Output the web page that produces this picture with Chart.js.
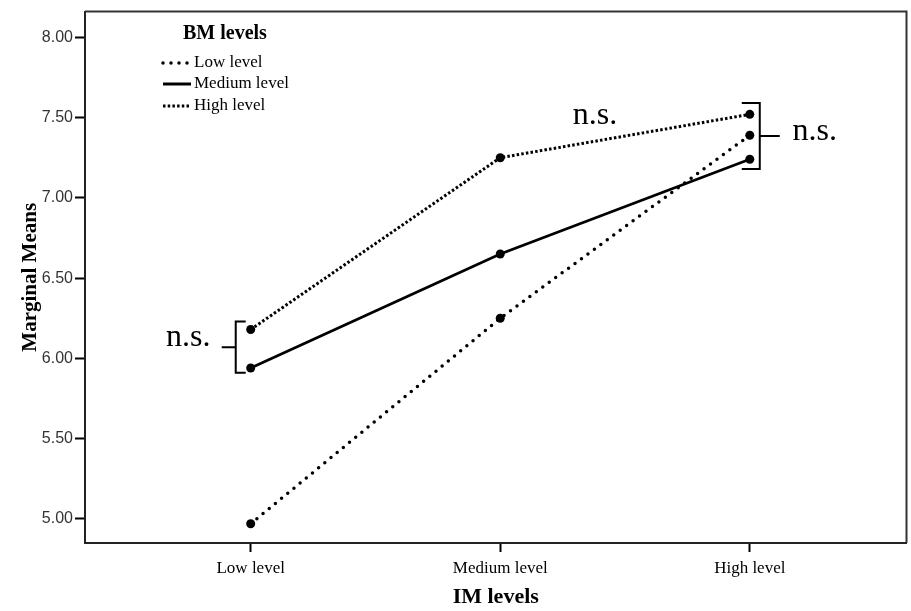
<!DOCTYPE html>
<html>
<head>
<meta charset="utf-8">
<script src="https://cdn.jsdelivr.net/npm/chart.js@4.4.1/dist/chart.umd.min.js"></script>
<style>
  body { margin: 0; background: #fff; }
  canvas { display: block; }
</style>
</head>
<body>
<canvas id="chart" width="911" height="611"></canvas>
<script>
// IM levels on the x axis, one line per BM level
const imLevels = ['Low level', 'Medium level', 'High level'];
const bmLevels = ['Low level', 'Medium level', 'High level'];
const lowBM = [4.97, 6.25, 7.39];
const mediumBM = [5.94, 6.65, 7.24];
const highBM = [6.18, 7.25, 7.52];
const yTicks = [5.0, 5.5, 6.0, 6.5, 7.0, 7.5, 8.0];

const serif = '"Liberation Serif", "Times New Roman", serif';
const sans = '"Liberation Sans", Arial, sans-serif';

function toPoints(values) {
  return values.map((v, i) => ({ x: i, y: v }));
}

// box around the plot, legend block and the n.s. marks
const extras = {
  id: 'extras',
  afterDraw(chart) {
    const ctx = chart.ctx;
    const area = chart.chartArea;
    const xs = chart.scales.x;
    const ys = chart.scales.y;
    ctx.save();

    // top and right frame
    ctx.strokeStyle = '#333';
    ctx.lineWidth = 2;
    ctx.beginPath();
    ctx.moveTo(area.left, area.top);
    ctx.lineTo(area.right, area.top);
    ctx.lineTo(area.right, area.bottom);
    ctx.stroke();

    // legend
    ctx.fillStyle = '#000';
    ctx.textBaseline = 'middle';
    ctx.font = 'bold 20px ' + serif;
    ctx.fillText('BM levels', 183, 34);
    ctx.font = '17px ' + serif;
    const rows = [63, 84, 106];
    const styles = [
      { dash: [0, 8], cap: 'round', width: 3.5 },
      { dash: [], cap: 'butt', width: 3 },
      { dash: [2.5, 2.2], cap: 'butt', width: 3 }
    ];
    bmLevels.forEach((name, i) => {
      const s = styles[i];
      ctx.setLineDash(s.dash);
      ctx.lineCap = s.cap;
      ctx.lineWidth = s.width;
      ctx.strokeStyle = '#000';
      ctx.beginPath();
      ctx.moveTo(163, rows[i]);
      ctx.lineTo(191, rows[i]);
      ctx.stroke();
      ctx.fillText(name, 194, rows[i]);
    });
    ctx.setLineDash([]);
    ctx.lineCap = 'butt';

    // brackets
    ctx.lineWidth = 2;
    ctx.strokeStyle = '#000';
    function bracket(x, yTop, yBot, dir, armLen, tipLen) {
      const xT = xs.getPixelForValue(x);
      const top = ys.getPixelForValue(yTop);
      const bot = ys.getPixelForValue(yBot);
      const mid = (top + bot) / 2;
      ctx.beginPath();
      ctx.moveTo(xT - dir * armLen, top);
      ctx.lineTo(xT, top);
      ctx.lineTo(xT, bot);
      ctx.lineTo(xT - dir * armLen, bot);
      ctx.moveTo(xT, mid);
      ctx.lineTo(xT + dir * tipLen, mid);
      ctx.stroke();
    }
    bracket(-0.06, 6.23, 5.91, -1, 10, 14);
    bracket(2.04, 7.59, 7.18, 1, 18, 20);

    ctx.font = '32px ' + serif;
    ctx.textAlign = 'center';
    [[-0.25, 6.13], [1.38, 7.51], [2.26, 7.41]].forEach(([x, y]) => {
      ctx.fillText('n.s.', xs.getPixelForValue(x), ys.getPixelForValue(y));
    });
    ctx.restore();
  }
};

new Chart(document.getElementById('chart'), {
  type: 'line',
  data: {
    datasets: [
      {
        label: bmLevels[0],
        data: toPoints(lowBM),
        borderColor: '#000',
        borderWidth: 3.5,
        borderDash: [0, 8],
        borderCapStyle: 'round',
        pointRadius: 4.5,
        pointBackgroundColor: '#000',
        pointBorderWidth: 0
      },
      {
        label: bmLevels[1],
        data: toPoints(mediumBM),
        borderColor: '#000',
        borderWidth: 2.8,
        pointRadius: 4.5,
        pointBackgroundColor: '#000',
        pointBorderWidth: 0
      },
      {
        label: bmLevels[2],
        data: toPoints(highBM),
        borderColor: '#000',
        borderWidth: 3,
        borderDash: [2.5, 2.2],
        pointRadius: 4.5,
        pointBackgroundColor: '#000',
        pointBorderWidth: 0
      }
    ]
  },
  options: {
    responsive: false,
    animation: false,
    layout: { padding: { top: 11, right: 3, left: 0, bottom: 0 } },
    plugins: { legend: { display: false }, tooltip: { enabled: false } },
    scales: {
      x: {
        type: 'linear',
        min: -0.664,
        max: 2.628,
        afterBuildTicks: axis => { axis.ticks = imLevels.map((_, i) => ({ value: i })); },
        afterFit: axis => { axis.height = 68; },
        ticks: {
          includeBounds: false,
          callback: v => imLevels[v],
          color: '#000',
          font: { family: serif, size: 17 },
          padding: 6,
          maxRotation: 0
        },
        grid: { drawOnChartArea: false, tickLength: 9, tickColor: '#000', tickWidth: 2 },
        border: { color: '#222', width: 2 },
        title: {
          display: true,
          text: 'IM levels',
          color: '#000',
          font: { family: serif, size: 22, weight: 'bold' },
          padding: { top: 0, bottom: 0 }
        }
      },
      y: {
        min: 4.85,
        max: 8.16,
        afterBuildTicks: axis => { axis.ticks = yTicks.map(v => ({ value: v })); },
        afterFit: axis => { axis.width = 85; },
        ticks: {
          includeBounds: false,
          callback: v => Number(v).toFixed(2),
          color: '#333',
          font: { family: sans, size: 16 },
          padding: 2
        },
        grid: { drawOnChartArea: false, tickLength: 10, tickColor: '#000', tickWidth: 2 },
        border: { color: '#222', width: 2 },
        title: {
          display: true,
          text: 'Marginal Means',
          color: '#000',
          font: { family: serif, size: 21, weight: 'bold' },
          padding: { top: 18, bottom: 0 }
        }
      }
    }
  },
  plugins: [extras]
});
</script>
</body>
</html>
